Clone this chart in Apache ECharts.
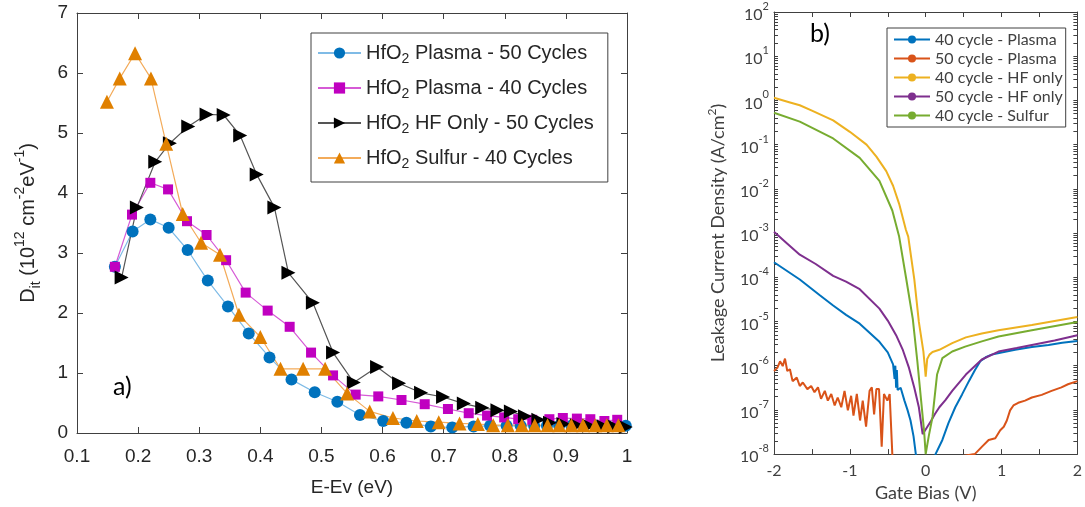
<!DOCTYPE html>
<html>
<head>
<meta charset="utf-8">
<script src="https://cdn.jsdelivr.net/npm/echarts@6/dist/echarts.min.js"></script>
<style>
  html, body { margin: 0; padding: 0; background: #fff; }
  #chart { width: 1085px; height: 507px; }
</style>
</head>
<body>
<div id="chart"></div>
<script>
/* ---- panel a) : Dit vs energy ---- */
let plasma50E = [0.162, 0.191, 0.220, 0.250, 0.281, 0.314, 0.347, 0.381, 0.415, 0.451, 0.489, 0.526, 0.563, 0.601, 0.639, 0.679, 0.714, 0.749, 0.776, 0.803, 0.826, 0.848, 0.869, 0.889, 0.909, 0.928, 0.948, 0.967, 0.985, 0.998];
let plasma50D = [2.77, 3.36, 3.56, 3.42, 3.05, 2.54, 2.11, 1.66, 1.26, 0.89, 0.68, 0.52, 0.30, 0.20, 0.17, 0.11, 0.09, 0.11, 0.12, 0.12, 0.12, 0.12, 0.12, 0.12, 0.12, 0.12, 0.12, 0.12, 0.12, 0.12];

let plasma40E = [0.162, 0.190, 0.220, 0.249, 0.280, 0.312, 0.344, 0.376, 0.412, 0.448, 0.483, 0.519, 0.556, 0.593, 0.631, 0.669, 0.707, 0.741, 0.771, 0.799, 0.822, 0.845, 0.873, 0.895, 0.918, 0.940, 0.963, 0.984];
let plasma40D = [2.77, 3.64, 4.17, 4.06, 3.53, 3.30, 2.88, 2.34, 2.04, 1.77, 1.34, 0.96, 0.64, 0.61, 0.55, 0.48, 0.40, 0.33, 0.29, 0.26, 0.23, 0.22, 0.23, 0.25, 0.24, 0.23, 0.20, 0.22];

let hfOnly50E = [0.173, 0.198, 0.228, 0.252, 0.282, 0.312, 0.340, 0.367, 0.394, 0.423, 0.446, 0.486, 0.519, 0.553, 0.591, 0.627, 0.663, 0.699, 0.733, 0.763, 0.788, 0.810, 0.833, 0.855, 0.874, 0.896, 0.918, 0.938, 0.962, 0.979, 0.998];
let hfOnly50D = [2.59, 3.76, 4.52, 4.83, 5.11, 5.31, 5.30, 4.96, 4.31, 3.76, 2.67, 2.17, 1.34, 0.84, 1.10, 0.83, 0.67, 0.60, 0.49, 0.42, 0.38, 0.36, 0.28, 0.22, 0.17, 0.15, 0.13, 0.12, 0.11, 0.11, 0.10];

let sulfur40E = [0.149, 0.170, 0.195, 0.221, 0.246, 0.273, 0.303, 0.334, 0.365, 0.400, 0.433, 0.470, 0.506, 0.542, 0.579, 0.617, 0.656, 0.692, 0.726, 0.756, 0.781, 0.805, 0.828, 0.849, 0.870, 0.889, 0.909, 0.928, 0.948, 0.967, 0.986];
let sulfur40D = [5.52, 5.91, 6.33, 5.91, 4.82, 3.65, 3.17, 2.97, 1.97, 1.60, 1.07, 1.07, 1.07, 0.66, 0.36, 0.25, 0.20, 0.18, 0.16, 0.15, 0.13, 0.13, 0.13, 0.13, 0.13, 0.13, 0.13, 0.13, 0.13, 0.13, 0.13];

let ditNames = ["HfO2 Plasma - 50 Cycles", "HfO2 Plasma - 40 Cycles", "HfO2 HF Only - 50 Cycles", "HfO2 Sulfur - 40 Cycles"];

/* ---- panel b) : leakage current, values as log10(A/cm^2) ---- */
let plasma40V = [-2, -1.66, -1.4, -1.22, -1.05, -0.87, -0.61, -0.5, -0.43, -0.41, -0.4, -0.39, -0.38, -0.37, -0.33, -0.28, -0.24, -0.2, -0.16, -0.13, -0.1,
                 0.12, 0.13, 0.22, 0.3, 0.39, 0.48, 0.57, 0.65, 0.72, 0.8, 0.87, 1.0, 1.18, 1.4, 1.62, 1.8, 2.0];
let plasma40J = [-3.66, -4.05, -4.4, -4.64, -4.85, -5.05, -5.46, -5.7, -5.97, -6.3, -6.0, -6.5, -6.1, -6.55, -6.5, -6.79, -7.0, -7.24, -7.6, -8.0, -8.5,
                 -8.5, -8.0, -7.68, -7.3, -6.94, -6.65, -6.35, -6.1, -5.9, -5.8, -5.75, -5.7, -5.64, -5.58, -5.53, -5.48, -5.44];

let plasma50V = [-2.0, -1.956, -1.92, -1.885, -1.855, -1.825, -1.79, -1.755, -1.70, -1.66, -1.62, -1.56, -1.51, -1.466, -1.42, -1.38, -1.33, -1.29, -1.245, -1.2, -1.16, -1.113, -1.07, -1.026, -0.983, -0.952, -0.908, -0.865, -0.83, -0.786, -0.74, -0.71, -0.68, -0.65, -0.615, -0.58, -0.55, -0.505, -0.475, -0.44, -0.43,
                 0.647, 0.743, 0.83, 0.918, 0.983, 1.03, 1.07, 1.113, 1.157, 1.22, 1.31, 1.40, 1.53, 1.66, 1.79, 1.876, 2.0];
let plasma50J = [-6.12, -6.05, -5.90, -6.01, -5.84, -6.12, -6.08, -6.35, -6.27, -6.46, -6.38, -6.53, -6.46, -6.60, -6.49, -6.75, -6.57, -6.79, -6.64, -6.90, -6.72, -6.94, -6.57, -7.01, -6.68, -7.13, -6.64, -7.24, -6.79, -7.38, -6.57, -6.49, -7.1, -6.53, -6.53, -7.83, -6.64, -6.79, -6.64, -8.0, -8.3,
                 -8.0, -7.83, -7.68, -7.64, -7.46, -7.38, -7.24, -7.01, -6.90, -6.84, -6.79, -6.72, -6.66, -6.57, -6.49, -6.42, -6.35];

let hfOnly40V = [-2, -1.8, -1.66, -1.5, -1.22, -1.0, -0.78, -0.65, -0.52, -0.43, -0.35, -0.26, -0.23, -0.15, -0.09, -0.03, -0.01, 0, 0.02, 0.05, 0.09, 0.18, 0.35, 0.53, 0.74, 0.96, 1.4, 2.0];
let hfOnly40J = [0.06, -0.04, -0.11, -0.23, -0.45, -0.71, -1.0, -1.27, -1.6, -1.93, -2.34, -2.93, -3.08, -4.05, -5.01, -5.68, -6.05, -6.25, -5.85, -5.75, -5.69, -5.64, -5.49, -5.36, -5.27, -5.2, -5.08, -4.9];

let hfOnly50V = [-2, -1.85, -1.66, -1.45, -1.22, -1.05, -0.87, -0.61, -0.5, -0.39, -0.3, -0.22, -0.15, -0.09, -0.04, 0.07, 0.12, 0.18, 0.26, 0.35, 0.53, 0.74, 0.96, 1.2, 1.4, 1.7, 2.0];
let hfOnly50J = [-2.97, -3.2, -3.49, -3.7, -3.97, -4.1, -4.27, -4.71, -4.98, -5.31, -5.65, -6.05, -6.5, -6.94, -7.55, -7.25, -7.1, -6.94, -6.78, -6.57, -6.2, -5.86, -5.68, -5.6, -5.53, -5.43, -5.31];

let sulfur40V = [-2, -1.66, -1.22, -0.87, -0.61, -0.44, -0.35, -0.26, -0.17, -0.11, -0.06, -0.02, 0, 0.04, 0.09, 0.15, 0.22, 0.35, 0.52, 0.74, 0.96, 1.4, 2.0];
let sulfur40J = [-0.28, -0.48, -0.86, -1.30, -1.82, -2.49, -3.08, -4.0, -4.94, -5.9, -6.79, -7.5, -8.0, -7.6, -7.16, -6.2, -5.83, -5.68, -5.57, -5.45, -5.34, -5.2, -5.01];

let leakNames = ["40 cycle - Plasma", "50 cycle - Plasma", "40 cycle - HF only", "50 cycle - HF only", "40 cycle - Sulfur"];
let leakColors = ["#0072BD", "#D95319", "#EDB120", "#7E2F8E", "#77AC30"];

/* decade exponents shown on the leakage axis */
let decadeMin = -8;
let decadeMax = 2;

/* pair two arrays into [x, y] points */
function zip(xs, ys) {
  return xs.map(function (x, i) { return [x, ys[i]]; });
}

/* log-axis tick spots: every decade plus 2..9 inside it */
let logTicks = [];
for (let n = decadeMin; n < decadeMax; n++) {
  for (let k = 1; k < 10; k++) logTicks.push(n + Math.log10(k));
}
logTicks.push(decadeMax);

let FONT_A = "Liberation Sans, Arial, sans-serif";
let FONT_B = "Lato, Open Sans, sans-serif";
let INK_A = "#262626";
let INK_B = "#404040";

let chart = echarts.init(document.getElementById("chart"), null, { renderer: "canvas" });

/* box axes: a plain copy of an axis on the opposite side, ticks only */
function boxAxis(base, pos) {
  return Object.assign({}, base, {
    position: pos,
    name: "",
    axisLabel: { show: false },
    splitLine: { show: false },
  });
}

let xA = {
  gridIndex: 0, type: "value", min: 0.1, max: 1, interval: 0.1,
  axisLine: { onZero: false, lineStyle: { color: INK_B, width: 1 } },
  axisTick: { inside: true, length: 6, lineStyle: { color: INK_B } },
  axisLabel: { color: INK_A, fontSize: 19, fontFamily: FONT_A, margin: 14 },
  splitLine: { show: false },
  name: "E-Ev (eV)", nameLocation: "middle", nameGap: 45,
  nameTextStyle: { color: INK_A, fontSize: 19, fontFamily: FONT_A },
};
let yA = {
  gridIndex: 0, type: "value", min: 0, max: 7, interval: 1,
  axisLine: { show: true, onZero: false, lineStyle: { color: INK_B, width: 1 } },
  axisTick: { show: true, inside: true, length: 6, lineStyle: { color: INK_B } },
  axisLabel: { color: INK_A, fontSize: 19, fontFamily: FONT_A, margin: 9 },
  splitLine: { show: false },
  name: "{t|D}{s|it}{t| (10}{p|12}{t| cm}{p|-2}{t|eV}{p|-1}{t|)}",
  nameLocation: "middle", nameGap: 34, nameRotate: 90,
  nameTextStyle: {
    color: INK_A, fontFamily: FONT_A,
    rich: {
      t: { fontSize: 20, fontFamily: FONT_A, color: INK_A, lineHeight: 30 },
      s: { fontSize: 14, fontFamily: FONT_A, color: INK_A, verticalAlign: "bottom", lineHeight: 30 },
      p: { fontSize: 14, fontFamily: FONT_A, color: INK_A, verticalAlign: "top", lineHeight: 30 },
    },
  },
};
let xB = {
  gridIndex: 1, type: "value", min: -2, max: 2, interval: 0.5,
  axisLine: { onZero: false, lineStyle: { color: INK_B, width: 1 } },
  axisTick: { inside: true, length: 5, lineStyle: { color: INK_B } },
  axisLabel: {
    color: INK_B, fontSize: 16, fontFamily: FONT_B, margin: 9,
    formatter: function (v) { return Number.isInteger(v) ? String(v) : ""; },
  },
  splitLine: { show: false },
  name: "Gate Bias (V)", nameLocation: "middle", nameGap: 28,
  nameTextStyle: { color: INK_B, fontSize: 18, fontFamily: FONT_B },
};
/* log10 scale drawn as a value axis over the exponent, labelled 10^n */
let yB = {
  gridIndex: 1, type: "value", min: decadeMin, max: decadeMax, interval: 1,
  axisLine: { show: true, onZero: false, lineStyle: { color: INK_B, width: 1 } },
  axisTick: { show: true, inside: true, length: 4, customValues: logTicks, lineStyle: { color: INK_B } },
  axisLabel: {
    color: INK_B, margin: 5,
    formatter: function (v) { return "{b|10}{s|" + v + "}"; },
    rich: {
      b: { fontSize: 16, fontFamily: FONT_B, color: INK_B, verticalAlign: "bottom", lineHeight: 22 },
      s: { fontSize: 11, fontFamily: FONT_B, color: INK_B, verticalAlign: "top", lineHeight: 22 },
    },
  },
  splitLine: { show: false },
  name: "{t|Leakage Current Density (A/cm}{p|2}{t|)}",
  nameLocation: "middle", nameGap: 44, nameRotate: 90,
  nameTextStyle: {
    rich: {
      t: { fontSize: 18, fontFamily: FONT_B, color: INK_B, lineHeight: 24 },
      p: { fontSize: 12, fontFamily: FONT_B, color: INK_B, verticalAlign: "top", lineHeight: 24 },
    },
  },
};

let ditSeries = [
  { x: plasma50E, y: plasma50D, symbol: "circle", size: 12, rot: 0, mark: "#0072BD", line: "#7fbbe6" },
  { x: plasma40E, y: plasma40D, symbol: "rect", size: 10, rot: 0, mark: "#C000C0", line: "#d65ad6" },
  { x: hfOnly50E, y: hfOnly50D, symbol: "triangle", size: 14, rot: -90, mark: "#000000", line: "#555555" },
  { x: sulfur40E, y: sulfur40D, symbol: "triangle", size: 14, rot: 0, mark: "#E08000", line: "#f3ab5a" },
].map(function (s, i) {
  return {
    type: "line", name: ditNames[i], xAxisIndex: 0, yAxisIndex: 0,
    data: zip(s.x, s.y),
    symbol: s.symbol, symbolSize: s.size, symbolRotate: s.rot, showSymbol: true,
    lineStyle: { color: s.line, width: 1.2 },
    itemStyle: { color: s.mark, borderWidth: 0 },
    emphasis: { disabled: true },
  };
});

let leakData = [
  zip(plasma40V, plasma40J),
  zip(plasma50V, plasma50J),
  zip(hfOnly40V, hfOnly40J),
  zip(hfOnly50V, hfOnly50J),
  zip(sulfur40V, sulfur40J),
];
let leakSeries = leakData.map(function (d, i) {
  return {
    type: "line", name: leakNames[i], xAxisIndex: 2, yAxisIndex: 2,
    data: d, symbol: "none", showSymbol: false, clip: true,
    lineStyle: { color: leakColors[i], width: 2 },
    itemStyle: { color: leakColors[i] },
    emphasis: { disabled: true },
  };
});

let option = {
  animation: false,
  backgroundColor: "#ffffff",
  grid: [
    { left: 77, top: 13, width: 550, height: 420 },
    { left: 774, top: 12, width: 305, height: 449 },
  ],
  xAxis: [xA, boxAxis(xA, "top"), xB, boxAxis(xB, "top")],
  yAxis: [yA, boxAxis(yA, "right"), yB, boxAxis(yB, "right")],
  legend: [
    {
      data: ditNames, orient: "vertical", left: 311, top: 33,
      itemWidth: 43, itemHeight: 14, itemGap: 12,
      padding: [10, 14, 11, 6],
      borderColor: INK_B, borderWidth: 1,
      selectedMode: false,
      formatter: function (name) { return "{t|HfO}{s|2}{t|" + name.slice(4) + "}"; },
      textStyle: {
        rich: {
          t: { fontSize: 20, fontFamily: FONT_A, color: INK_A, lineHeight: 26 },
          s: { fontSize: 14, fontFamily: FONT_A, color: INK_A, verticalAlign: "bottom", lineHeight: 26 },
        },
      },
    },
    {
      data: leakNames, orient: "vertical", left: 887, top: 28,
      itemWidth: 36, itemHeight: 10, itemGap: 0,
      padding: [2, 3, 2, 6],
      borderColor: INK_B, borderWidth: 1,
      selectedMode: false,
      textStyle: { fontSize: 16, fontFamily: FONT_B, color: INK_B, lineHeight: 19 },
    },
  ],
  graphic: [
    { type: "text", left: 113, top: 374, style: { text: "a)", fontSize: 25, fontFamily: FONT_B, fill: "#000" } },
    { type: "text", left: 810, top: 21, style: { text: "b)", fontSize: 25, fontFamily: FONT_B, fill: "#000" } },
  ],
  series: ditSeries.concat(leakSeries),
};

chart.setOption(option);
</script>
</body>
</html>
